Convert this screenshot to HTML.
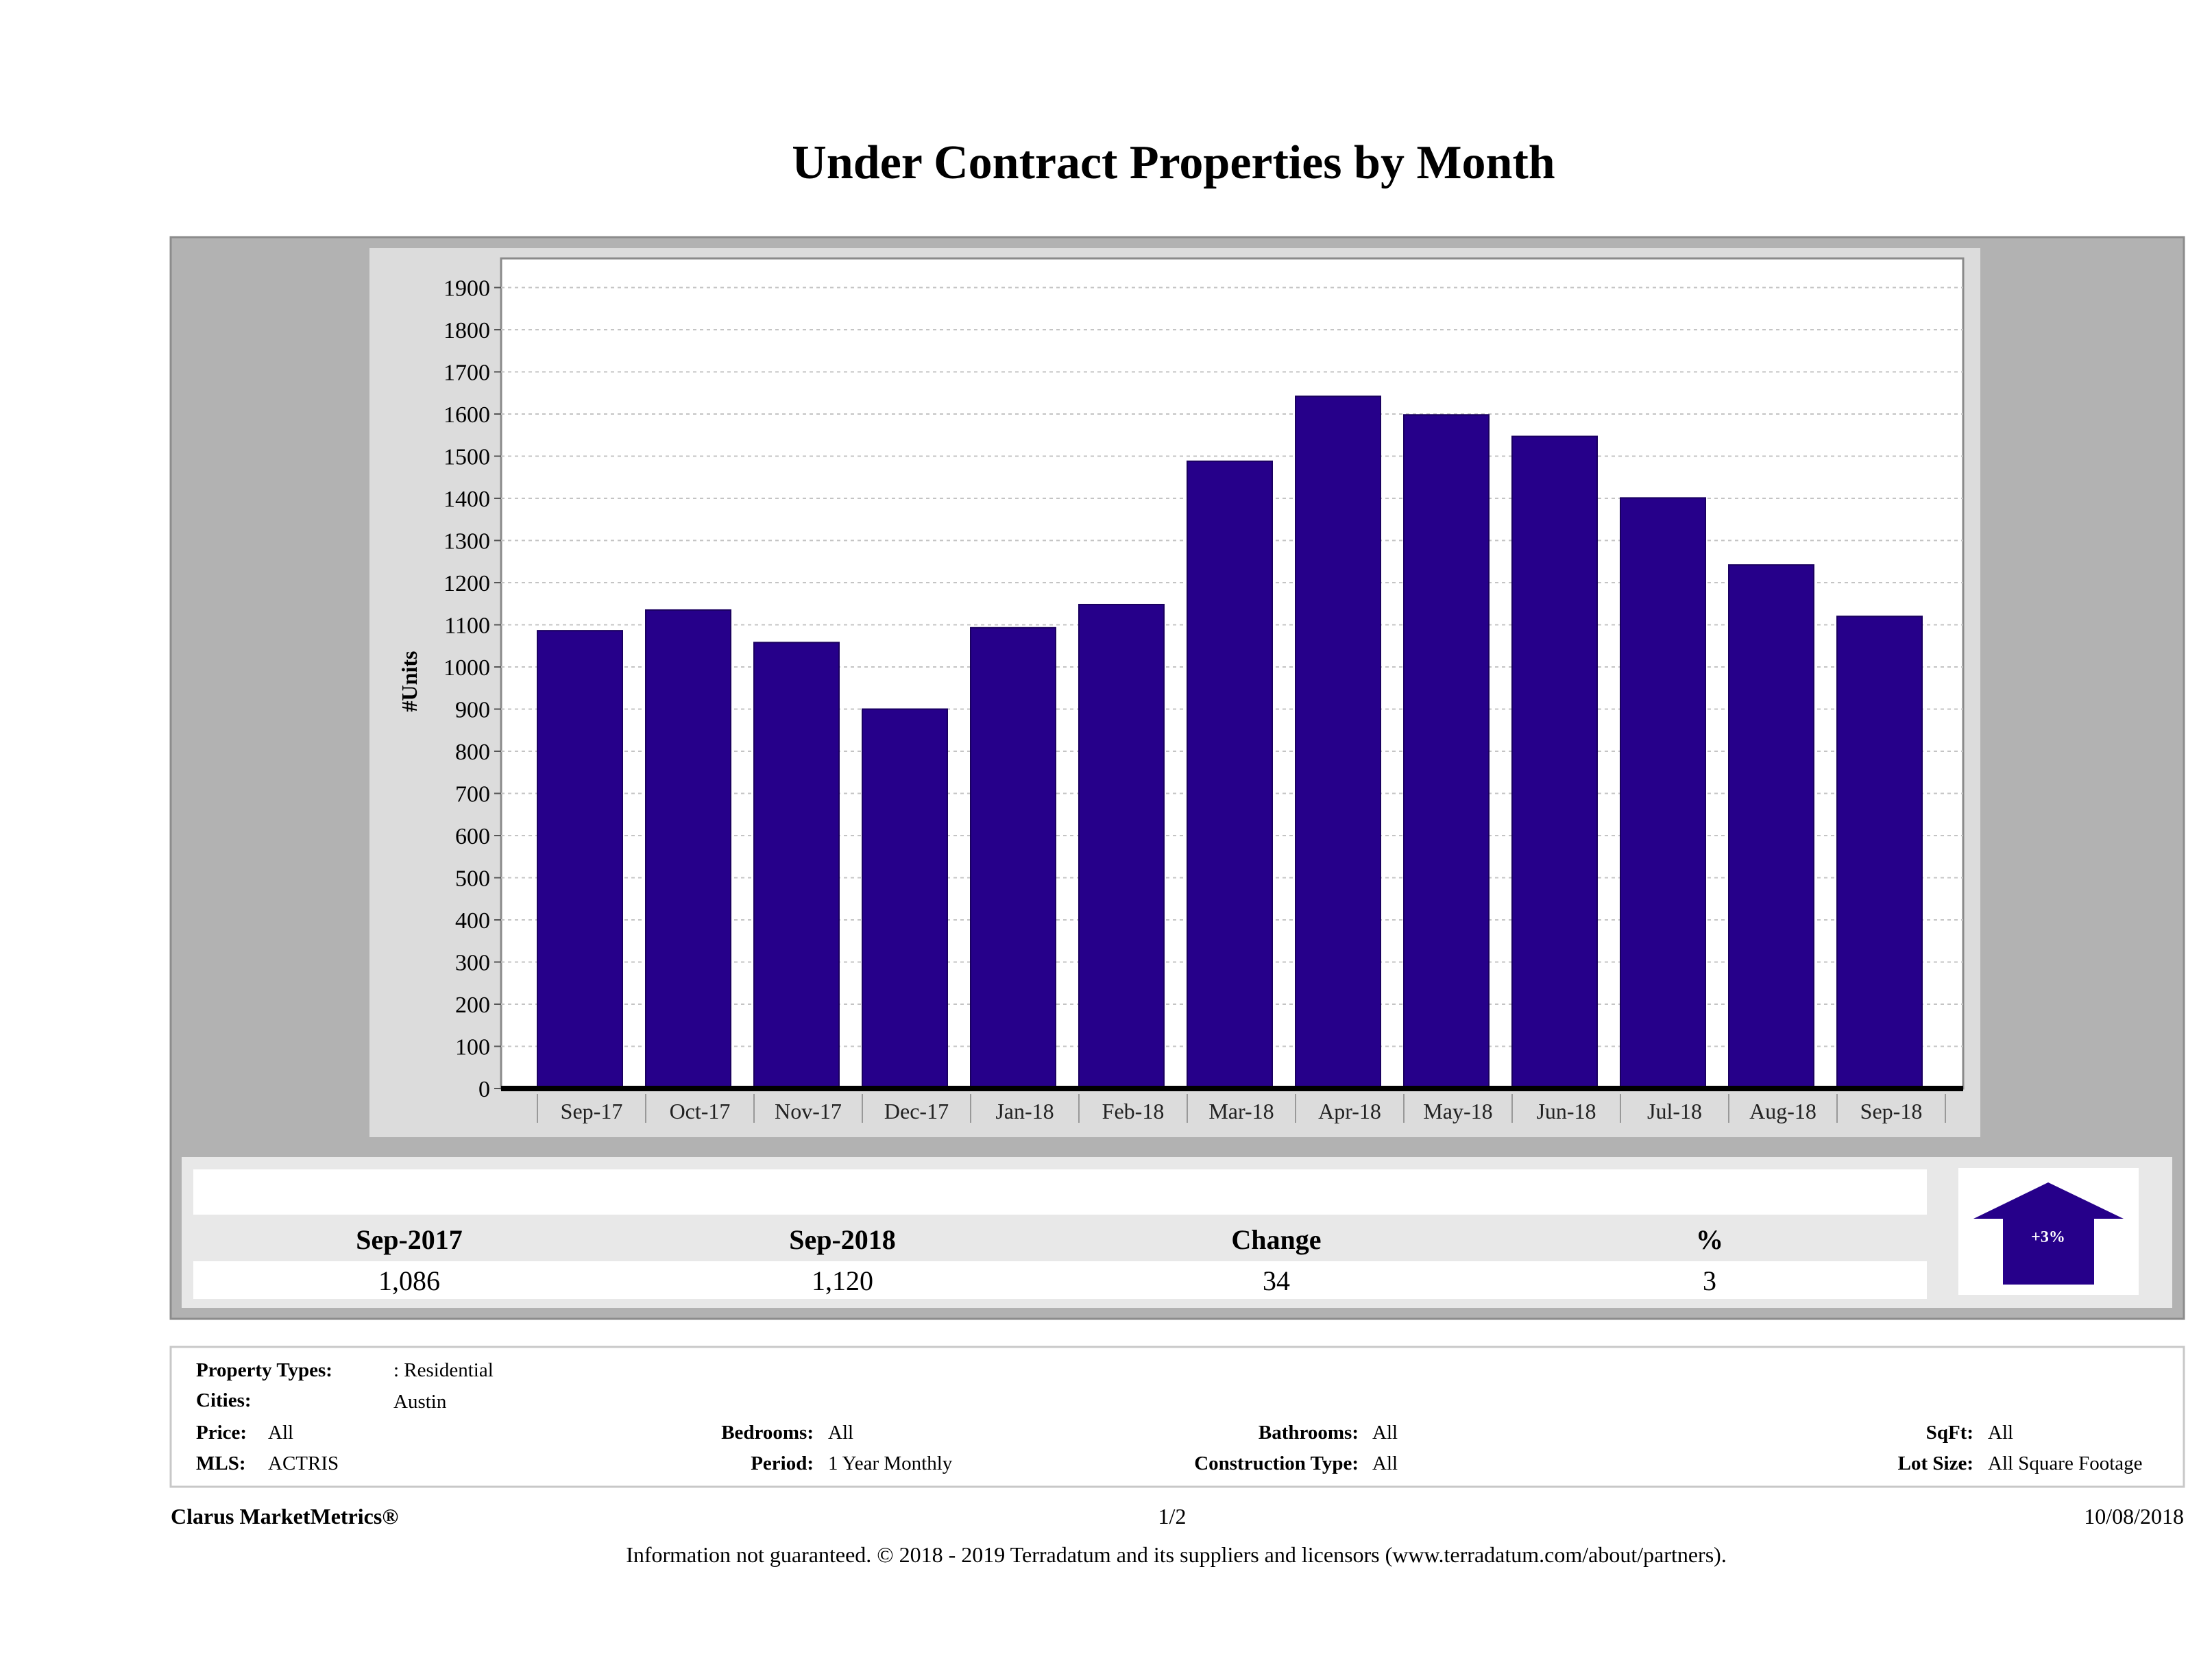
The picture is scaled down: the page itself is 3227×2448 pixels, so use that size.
<!DOCTYPE html>
<html><head><meta charset="utf-8"><title>Under Contract Properties by Month</title>
<style>
html,body{margin:0;padding:0;background:#fff;}
svg{display:block;font-family:"Liberation Serif",serif;}
</style></head>
<body>
<svg id="page" width="3227" height="2448" viewBox="0 0 3227 2448" xmlns="http://www.w3.org/2000/svg">
<text x="1712" y="260" text-anchor="middle" font-size="70" font-weight="bold" fill="#000">Under Contract Properties by Month</text>

<rect x="249" y="346" width="2937" height="1578" fill="#b2b2b2" stroke="#8c8c8c" stroke-width="3"/>
<rect x="539" y="362" width="2350" height="1297" fill="#dcdcdc"/>
<rect x="731" y="377" width="2133" height="1211" fill="#fff" stroke="#8a8a8a" stroke-width="3"/>
<g id="grid"></g>
<g id="bars"></g>
<g id="yticks"></g>
<g id="xticks"></g>
<text transform="translate(608,994) rotate(-90)" text-anchor="middle" font-size="32" font-weight="bold">#Units</text>

<rect x="265" y="1688" width="2904" height="220" fill="#e8e8e8"/>
<rect x="282" y="1706" width="2529" height="66" fill="#fff"/>
<rect x="282" y="1840" width="2529" height="55" fill="#fff"/>
<g font-size="40" text-anchor="middle">
<text x="597" y="1822" font-weight="bold">Sep-2017</text>
<text x="1229" y="1822" font-weight="bold">Sep-2018</text>
<text x="1862" y="1822" font-weight="bold">Change</text>
<text x="2494" y="1822" font-weight="bold">%</text>
<text x="597" y="1882">1,086</text>
<text x="1229" y="1882">1,120</text>
<text x="1862" y="1882">34</text>
<text x="2494" y="1882">3</text>
</g>
<rect x="2857" y="1704" width="263" height="185" fill="#fff"/>
<polygon points="2988,1725 3098,1778 3055,1778 3055,1874 2922,1874 2922,1778 2879,1778" fill="#26008a"/>
<text x="2988" y="1812" text-anchor="middle" font-size="24" font-weight="bold" fill="#fff">+3%</text>

<rect x="249" y="1965" width="2937" height="204" fill="#fff" stroke="#c8c8c8" stroke-width="3"/>
<g font-size="29">
<text x="286" y="2008" font-weight="bold">Property Types:</text>
<text x="574" y="2008">: Residential</text>
<text x="286" y="2052" font-weight="bold">Cities:</text>
<text x="574" y="2054">Austin</text>
<text x="286" y="2099" font-weight="bold">Price:</text>
<text x="391" y="2099">All</text>
<text x="1187" y="2099" font-weight="bold" text-anchor="end">Bedrooms:</text>
<text x="1208" y="2099">All</text>
<text x="1982" y="2099" font-weight="bold" text-anchor="end">Bathrooms:</text>
<text x="2002" y="2099">All</text>
<text x="2879" y="2099" font-weight="bold" text-anchor="end">SqFt:</text>
<text x="2900" y="2099">All</text>
<text x="286" y="2144" font-weight="bold">MLS:</text>
<text x="391" y="2144">ACTRIS</text>
<text x="1187" y="2144" font-weight="bold" text-anchor="end">Period:</text>
<text x="1208" y="2144">1 Year Monthly</text>
<text x="1982" y="2144" font-weight="bold" text-anchor="end">Construction Type:</text>
<text x="2002" y="2144">All</text>
<text x="2879" y="2144" font-weight="bold" text-anchor="end">Lot Size:</text>
<text x="2900" y="2144">All Square Footage</text>
</g>
<g font-size="32">
<text x="249" y="2223" font-weight="bold">Clarus MarketMetrics®</text>
<text x="1710" y="2223" text-anchor="middle">1/2</text>
<text x="3186" y="2223" text-anchor="end">10/08/2018</text>
<text x="1716" y="2279" text-anchor="middle" font-size="32">Information not guaranteed. © 2018 - 2019 Terradatum and its suppliers and licensors (www.terradatum.com/about/partners).</text>
</g>
</svg>
<script>
const categories = ["Sep-17","Oct-17","Nov-17","Dec-17","Jan-18","Feb-18","Mar-18","Apr-18","May-18","Jun-18","Jul-18","Aug-18","Sep-18"];
const units = [1086,1135,1058,900,1093,1148,1488,1642,1598,1547,1401,1242,1120];
const yTicks = [0,100,200,300,400,500,600,700,800,900,1000,1100,1200,1300,1400,1500,1600,1700,1800,1900];

const NS = "http://www.w3.org/2000/svg";
const plotL = 731, plotR = 2864, y0 = 1588, yTop = 419.5, vTop = 1900;
const bandStart = 784, band = 158, barW = 124;
function yScale(v){ return y0 - (v / vTop) * (y0 - yTop); }
function xBand(i){ return bandStart + i * band; }
function mk(tag, attrs){ const e = document.createElementNS(NS, tag); for (const k in attrs) e.setAttribute(k, attrs[k]); return e; }

const grid = document.getElementById('grid');
const yt = document.getElementById('yticks');
yTicks.forEach(v => {
  const y = yScale(v);
  if (v > 0) {
    const g = mk('line', {x1: plotL, x2: plotR, y1: y, y2: y, stroke: '#c4c4c4', 'stroke-width': 2, 'stroke-dasharray': '5 5'});
    
    
    grid.appendChild(g);
  }
  const tk = mk('line', {x1: plotL - 10, x2: plotL, y1: y, y2: y, stroke: '#555', 'stroke-width': 2});
  
  
  yt.appendChild(tk);
  const t = mk('text', {x: plotL - 16, y: y + 12, 'text-anchor': 'end', 'font-size': 34});
  t.textContent = v;
  
  
  yt.appendChild(t);
});

const bars = document.getElementById('bars');
units.forEach((v, i) => {
  const r = mk('rect', {x: xBand(i), y: yScale(v), width: barW, height: y0 - yScale(v), fill: '#26008a', stroke: '#1a0060', 'stroke-width': 2});
  
  
  bars.appendChild(r);
});

const xt = document.getElementById('xticks');
const axis = mk('line', {x1: plotL, x2: plotR, y1: y0, y2: y0, stroke: '#000', 'stroke-width': 8});


xt.appendChild(axis);
categories.forEach((c, i) => {
  const sx = xBand(i);
  const s = mk('line', {x1: sx, x2: sx, y1: y0 + 8, y2: y0 + 50, stroke: '#999', 'stroke-width': 2});
  
  
  xt.appendChild(s);
  const t = mk('text', {x: sx + band / 2, y: y0 + 44, 'text-anchor': 'middle', 'font-size': 32, fill: '#222'});
  t.textContent = c;
  
  
  xt.appendChild(t);
});
const last = mk('line', {x1: xBand(categories.length), x2: xBand(categories.length), y1: y0 + 8, y2: y0 + 50, stroke: '#999', 'stroke-width': 2});


xt.appendChild(last);
</script>
</body></html>
